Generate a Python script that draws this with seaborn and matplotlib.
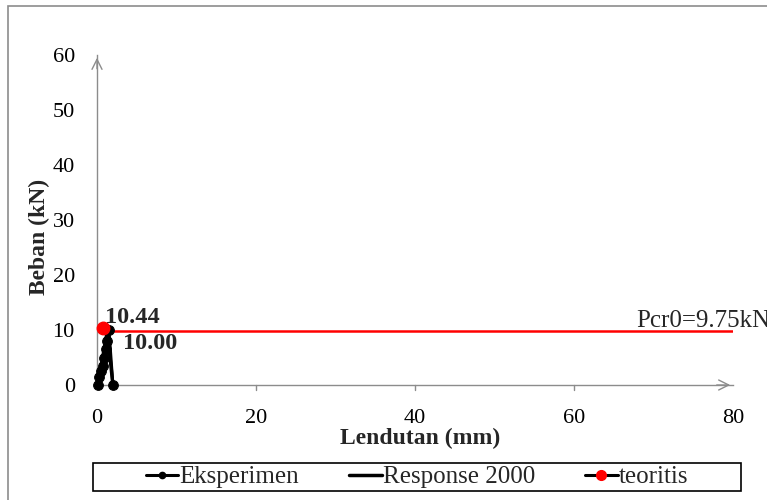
import matplotlib
matplotlib.use("Agg")
import matplotlib.pyplot as plt
from matplotlib.lines import Line2D
from matplotlib.patches import Rectangle
import seaborn as sns
import pandas as pd

# ---- data ----
eks_x = [0.1, 0.3, 0.5, 0.7, 0.9, 1.1, 1.3, 1.5, 2.0]
eks_y = [0.0, 1.5, 2.5, 3.5, 5.0, 6.5, 8.0, 10.0, 0.0]
resp_x = [0.1, 1.3, 2.0]
resp_y = [0.0, 9.8, 0.0]
teo_x = [0.8]
teo_y = [10.44]
pcr_x = [0.8, 80]
pcr_y = [9.75, 9.75]
label_teo = "10.44"
label_eks = "10.00"
label_pcr = "Pcr0=9.75kN"
x_ticks = [0, 20, 40, 60, 80]
y_ticks = [0, 10, 20, 30, 40, 50, 60]

sns.set_style("white")
plt.rcParams['font.family'] = ['Liberation Serif', 'DejaVu Serif']

W, H = 767, 500
fig = plt.figure(figsize=(W / 100, H / 100), dpi=100)
fig.patches.append(Rectangle((8 / W, -0.1), 1.2, (H - 6) / H + 0.1, transform=fig.transFigure,
                             fill=False, edgecolor='#8c8c8c', lw=1.2))

ax = fig.add_axes([97 / W, (H - 385) / H, (733 - 97) / W, (385 - 55) / H])
ax.set_facecolor('none')

df_eks = pd.DataFrame({"x": eks_x, "y": eks_y})
df_resp = pd.DataFrame({"x": resp_x, "y": resp_y})
df_pcr = pd.DataFrame({"x": pcr_x, "y": pcr_y})

sns.lineplot(data=df_pcr, x="x", y="y", ax=ax, color='#ff0000', lw=1.8, sort=False, zorder=2)
sns.lineplot(data=df_resp, x="x", y="y", ax=ax, color='black', lw=2.5, sort=False, zorder=3)
sns.lineplot(data=df_eks, x="x", y="y", ax=ax, color='black', lw=2.2, marker='o',
             markersize=7, markeredgecolor='black', sort=False, zorder=4, clip_on=False)
ax.plot(teo_x, teo_y, 'o', color='#ff0000', markersize=9, zorder=5, clip_on=False)

ax.text(1.0, 12.3, label_teo, fontsize=17.5, fontweight='bold', va='center', ha='left')
ax.text(3.3, 7.5, label_eks, fontsize=17.5, fontweight='bold', va='center', ha='left')
ax.text(67.8, 11.6, label_pcr, fontsize=18, va='center', ha='left', clip_on=False)

ax.set_xlim(0, 80)
ax.set_ylim(0, 60)
ax.set_xticks(x_ticks)
ax.set_yticks(y_ticks)
ax.tick_params(axis='both', labelsize=16, colors='#8c8c8c', labelcolor='black',
               direction='out', length=5, width=1)
ax.tick_params(axis='y', pad=11)
ax.tick_params(axis='x', length=0, pad=17)
for s in ['top', 'right']:
    ax.spines[s].set_visible(False)
for s in ['left', 'bottom']:
    ax.spines[s].set_color('#8c8c8c')
    ax.spines[s].set_linewidth(1)

ax.annotate('', xy=(0, 1.0), xytext=(0, 0.95), xycoords='axes fraction',
            arrowprops=dict(arrowstyle='->', color='#8c8c8c', lw=1, mutation_scale=18))
ax.annotate('', xy=(1.0, 0), xytext=(0.97, 0), xycoords='axes fraction',
            arrowprops=dict(arrowstyle='->', color='#8c8c8c', lw=1, mutation_scale=18))
for xt in [20, 40, 60]:
    ax.plot([xt, xt], [0, -0.9], color='#8c8c8c', lw=1, clip_on=False)

ax.set_xlabel("Lendutan (mm)", fontsize=17, fontweight='bold')
ax.set_ylabel("Beban (kN)", fontsize=17, fontweight='bold')
ax.xaxis.set_label_coords((420 - 97) / (733 - 97), -(428 - 385) / (385 - 55))
ax.yaxis.set_label_coords(-(97 - 50) / (733 - 97), (385 - 237) / (385 - 55))

# legend box
fig.patches.append(Rectangle((93 / W, (H - 491) / H), (741 - 93) / W, 28 / H,
                             transform=fig.transFigure, fill=False, edgecolor='black', lw=1.2))
handles = [
    Line2D([], [], color='black', lw=2.2, marker='o', markersize=4.5),
    Line2D([], [], color='black', lw=2.5),
    Line2D([], [], color='black', lw=2.2, marker='o', markersize=7,
           markerfacecolor='#ff0000', markeredgecolor='#ff0000'),
]
leg = fig.legend(handles, ["Eksperimen", "Response 2000", "teoritis"],
                 loc='center', bbox_to_anchor=(417 / W, (H - 477) / H),
                 ncol=3, fontsize=18, frameon=False,
                 handlelength=1.3, handletextpad=0.05, columnspacing=2.0,
                 borderaxespad=0, borderpad=0)

fig.savefig("out.png", dpi=100)
